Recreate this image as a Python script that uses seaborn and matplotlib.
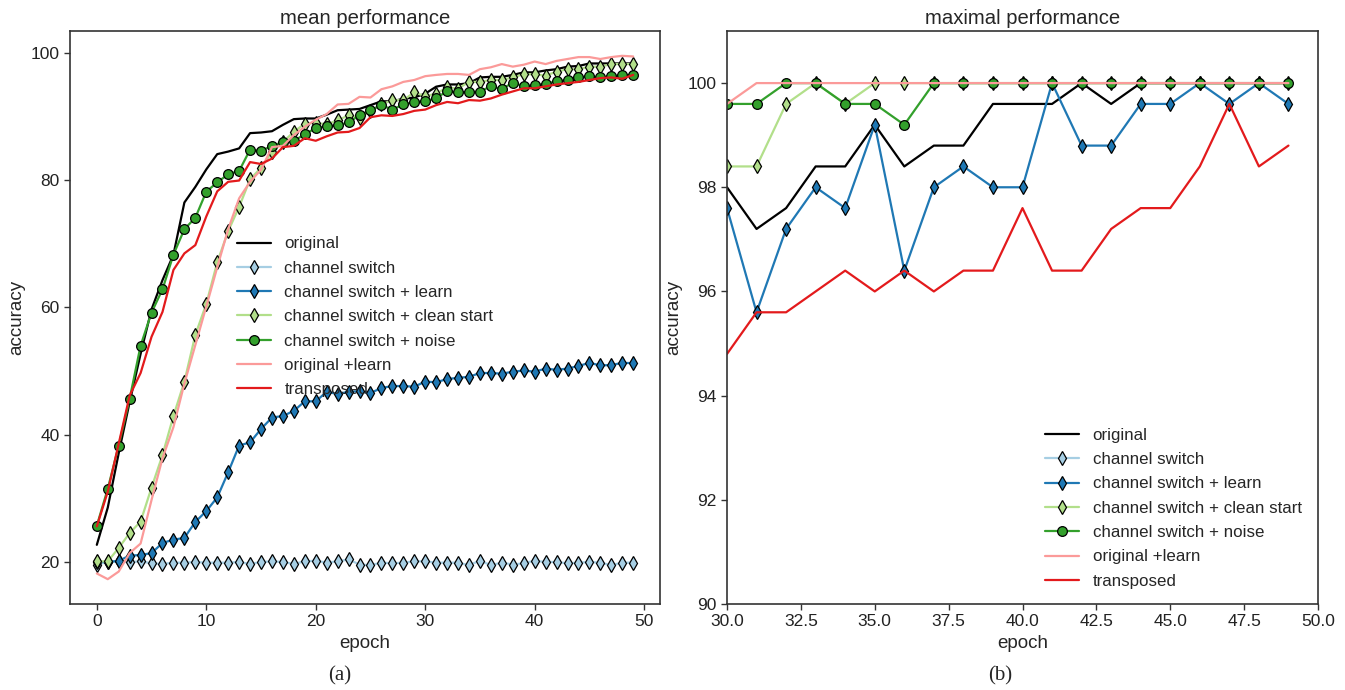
import numpy as np
import pandas as pd
import matplotlib
matplotlib.use("Agg")
import matplotlib.pyplot as plt
import seaborn as sns

# ---------------- data ----------------
epochs = list(range(50))
labels = ["original", "channel switch", "channel switch + learn",
          "channel switch + clean start", "channel switch + noise",
          "original +learn", "transposed"]

mean_original = [22.7, 28.55, 37.1, 45.15, 52.7, 59.7, 64.3, 68.3, 76.5, 78.95,
                 81.7, 84.1, 84.5, 85.0, 87.4, 87.5, 87.7, 88.7, 89.6, 89.7,
                 89.7, 90.3, 91.0, 91.1, 91.2, 91.8, 92.4, 92.4, 92.8, 93.0,
                 93.6, 94.7, 95.05, 95.05, 95.25, 96.15, 96.25, 96.25, 96.55, 96.95,
                 96.95, 97.25, 97.45, 97.85, 97.95, 98.35, 98.35, 98.35, 98.35, 98.35]
mean_switch = [19.6, 20.0, 20.1, 20.0, 20.1, 19.8, 19.7, 19.9, 19.9, 20.0,
               19.9, 19.9, 19.9, 20.0, 19.7, 20.0, 20.1, 20.0, 19.7, 20.1,
               20.2, 19.9, 20.1, 20.4, 19.6, 19.5, 19.9, 19.8, 19.9, 20.1,
               20.1, 19.9, 19.9, 19.9, 19.5, 20.2, 19.5, 19.9, 19.6, 19.8,
               20.2, 20.0, 20.0, 19.8, 19.9, 20.0, 19.9, 19.5, 19.9, 19.9]
mean_switch_learn = [20.0, 20.0, 20.2, 21.0, 21.1, 21.4, 23.0, 23.5, 23.8, 26.3,
                     28.0, 30.15, 34.1, 38.3, 38.8, 40.9, 42.7, 42.95, 43.75, 45.25,
                     45.25, 46.75, 46.4, 46.75, 46.85, 46.55, 47.35, 47.65, 47.65, 47.55,
                     48.35, 48.25, 48.75, 48.95, 49.1, 49.7, 49.7, 49.6, 49.9, 50.1,
                     49.9, 50.4, 50.2, 50.4, 50.8, 51.3, 50.9, 50.95, 51.3, 51.25]
mean_clean = [20.1, 20.1, 22.2, 24.55, 26.35, 31.7, 36.8, 42.95, 48.35, 55.7,
              60.55, 67.1, 72.0, 75.8, 80.15, 81.95, 84.4, 86.0, 87.6, 88.9,
              89.0, 88.8, 89.4, 90.2, 89.8, 90.9, 91.9, 92.6, 92.6, 93.8,
              93.2, 93.6, 94.6, 94.4, 95.45, 95.45, 95.75, 95.75, 96.15, 96.65,
              96.65, 96.45, 97.05, 97.45, 97.45, 97.85, 97.85, 98.25, 98.25, 98.25]
mean_noise = [25.7, 31.5, 38.3, 45.65, 54.0, 59.2, 62.85, 68.3, 72.3, 74.1,
              78.2, 79.65, 80.95, 81.45, 84.8, 84.6, 85.4, 86.0, 86.2, 87.2,
              88.2, 88.5, 88.6, 89.1, 90.2, 91.0, 91.8, 91.1, 91.9, 92.3,
              92.4, 92.9, 94.0, 93.8, 93.9, 93.9, 94.8, 94.3, 95.35, 94.75,
              94.95, 95.15, 95.55, 95.75, 96.15, 96.35, 96.15, 96.35, 96.55, 96.55]
mean_orig_learn = [18.2, 17.3, 18.5, 21.4, 22.9, 29.75, 36.3, 41.2, 48.05, 54.1,
                   60.15, 66.3, 72.3, 77.15, 79.75, 81.65, 85.2, 85.4, 87.1, 88.4,
                   89.5, 90.4, 91.9, 92.0, 93.1, 93.0, 94.3, 94.75, 95.45, 95.75,
                   96.35, 96.55, 96.7, 96.7, 96.55, 97.45, 97.75, 98.25, 97.85, 98.15,
                   98.65, 98.25, 98.75, 99.05, 99.35, 99.35, 99.05, 99.35, 99.55, 99.45]
mean_transposed = [25.6, 31.05, 38.6, 46.15, 49.7, 55.4, 59.3, 65.9, 68.5, 69.8,
                   74.3, 78.25, 79.75, 79.95, 82.85, 82.55, 83.4, 85.2, 85.4, 86.6,
                   86.2, 86.9, 87.5, 87.6, 88.2, 89.9, 90.2, 90.1, 90.4, 90.9,
                   91.1, 91.8, 92.3, 92.1, 92.6, 92.5, 92.85, 93.45, 93.95, 94.45,
                   94.45, 94.75, 95.05, 95.25, 95.45, 95.75, 96.05, 96.15, 95.95, 96.55]

# maximal performance (epochs 30..49 shown in panel b)
max_epochs = list(range(30, 50))
max_original = [98.0, 97.2, 97.6, 98.4, 98.4, 99.2, 98.4, 98.8, 98.8, 99.6,
                99.6, 99.6, 100.0, 99.6, 100.0, 100.0, 100.0, 100.0, 100.0, 100.0]
# channel switch stays near 20-22 % (far below the visible range of panel b)
max_switch = [22.0, 21.6, 22.0, 22.4, 21.6, 22.0, 22.4, 22.0, 21.6, 22.0,
              22.4, 22.0, 22.0, 21.6, 22.0, 22.4, 22.0, 21.6, 22.0, 22.0]
max_switch_learn = [97.6, 95.6, 97.2, 98.0, 97.6, 99.2, 96.4, 98.0, 98.4, 98.0,
                    98.0, 100.0, 98.8, 98.8, 99.6, 99.6, 100.0, 99.6, 100.0, 99.6]
max_clean = [98.4, 98.4, 99.6, 100.0, 99.6, 100.0, 100.0, 100.0, 100.0, 100.0,
             100.0, 100.0, 100.0, 100.0, 100.0, 100.0, 100.0, 100.0, 100.0, 100.0]
max_noise = [99.6, 99.6, 100.0, 100.0, 99.6, 99.6, 99.2, 100.0, 100.0, 100.0,
             100.0, 100.0, 100.0, 100.0, 100.0, 100.0, 100.0, 100.0, 100.0, 100.0]
max_orig_learn = [99.6, 100.0, 100.0, 100.0, 100.0, 100.0, 100.0, 100.0, 100.0, 100.0,
                  100.0, 100.0, 100.0, 100.0, 100.0, 100.0, 100.0, 100.0, 100.0, 100.0]
max_transposed = [94.8, 95.6, 95.6, 96.0, 96.4, 96.0, 96.4, 96.0, 96.4, 96.4,
                  97.6, 96.4, 96.4, 97.2, 97.6, 97.6, 98.4, 99.6, 98.4, 98.8]

colors = ["black", "#a6cee3", "#1f78b4", "#b2df8a", "#33a02c", "#fb9a99", "#e31a1c"]
markers = [None, "d", "d", "d", "o", None, None]

# ---------------- style ----------------
sns.set_style("ticks")
plt.rcParams["font.family"] = ["Liberation Sans", "DejaVu Sans"]
plt.rcParams["axes.edgecolor"] = "#333333"
plt.rcParams["axes.linewidth"] = 1.2

fig = plt.figure(figsize=(13.45, 6.9), dpi=100)
ax1 = fig.add_axes([70 / 1345, 1 - 604 / 690, 590 / 1345, 573 / 690])
ax2 = fig.add_axes([727 / 1345, 1 - 604 / 690, 591 / 1345, 573 / 690])


def draw(ax, x, series):
    for lab, vals, c, m in zip(labels, series, colors, markers):
        kw = dict(color=c, linewidth=1.6, label=lab)
        if m is not None:
            kw.update(marker=m, markersize=7 if m == "o" else 7.5,
                      markeredgecolor="black", markeredgewidth=0.9,
                      markerfacecolor=c)
        sns.lineplot(x=x, y=vals, ax=ax, **kw)


draw(ax1, epochs, [mean_original, mean_switch, mean_switch_learn, mean_clean,
                   mean_noise, mean_orig_learn, mean_transposed])
draw(ax2, max_epochs, [max_original, max_switch, max_switch_learn, max_clean,
                       max_noise, max_orig_learn, max_transposed])

ax1.set_xlim(-2.45, 51.45)
ax1.set_ylim(13.4, 103.45)
ax1.set_xticks([0, 10, 20, 30, 40, 50])
ax1.set_yticks([20, 40, 60, 80, 100])
ax1.set_title("mean performance", fontsize=14.6, pad=5)
ax1.set_xlabel("epoch", fontsize=13.5)
ax1.set_ylabel("accuracy", fontsize=13.5)
ax1.legend(loc="center left", bbox_to_anchor=(0.257, 0.501), frameon=False,
           fontsize=12.2, handlelength=2.0, labelspacing=0.55)

ax2.set_xlim(30, 50)
ax2.set_ylim(90, 101)
ax2.set_xticks([30.0, 32.5, 35.0, 37.5, 40.0, 42.5, 45.0, 47.5, 50.0])
ax2.set_xticklabels(["30.0", "32.5", "35.0", "37.5", "40.0", "42.5", "45.0", "47.5", "50.0"])
ax2.set_yticks([90, 92, 94, 96, 98, 100])
ax2.set_title("maximal performance", fontsize=14.6, pad=5)
ax2.set_xlabel("epoch", fontsize=13.5)
ax2.set_ylabel("accuracy", fontsize=13.5)
ax2.legend(loc="lower right", bbox_to_anchor=(0.998, 0.0), frameon=False,
           fontsize=12.2, handlelength=2.0, labelspacing=0.55)

for ax in (ax1, ax2):
    ax.tick_params(labelsize=12.5, length=4, width=1, colors="#333333")
    for t in ax.get_xticklabels() + ax.get_yticklabels():
        t.set_color("#222222")

fig.text(340 / 1345, 1 - 676 / 690, "(a)", ha="center", va="center",
         fontsize=15, family=["Liberation Serif", "DejaVu Serif"])
fig.text(1000 / 1345, 1 - 676 / 690, "(b)", ha="center", va="center",
         fontsize=15, family=["Liberation Serif", "DejaVu Serif"])

fig.savefig("out.png", dpi=100)
